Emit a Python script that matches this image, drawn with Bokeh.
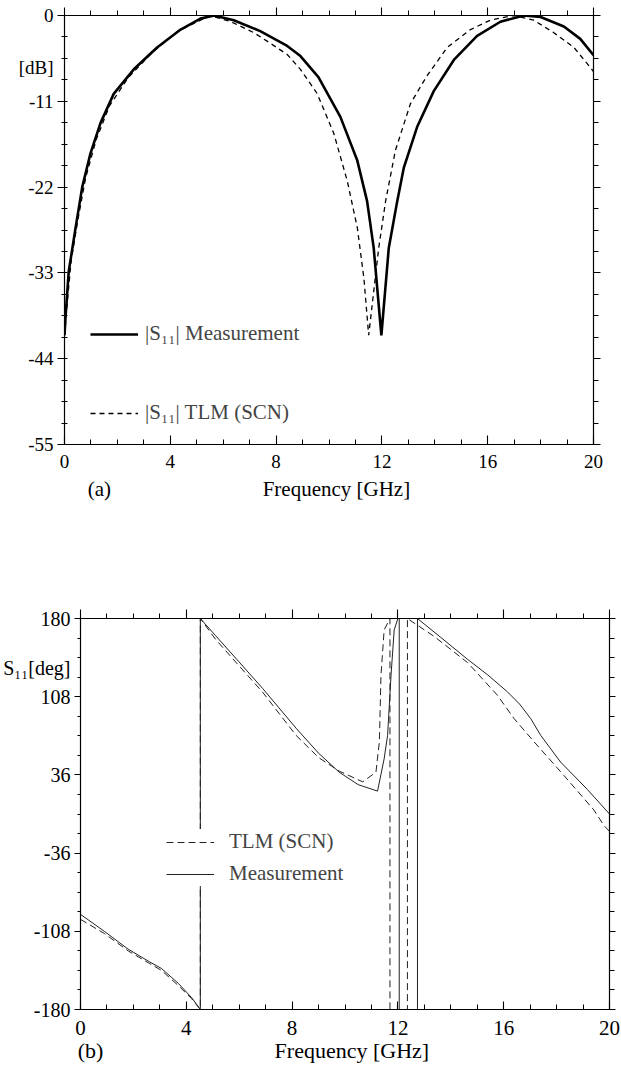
from bokeh.plotting import figure
from bokeh.models import (Range1d, LinearAxis, FixedTicker, Legend, LegendItem,
                          CustomJSTickFormatter)
from bokeh.embed import file_html
from bokeh.resources import INLINE

FONT = "Liberation Serif"

# ---------------- data: panel (a) |S11| in dB ----------------
meas_f = [0.0, 0.04, 0.16, 0.42, 0.67, 0.98, 1.36, 1.86, 2.62, 3.5, 4.39, 5.14, 5.65, 6.4, 7.4,
          8.42, 8.92, 9.6, 10.43, 11.07, 11.44, 11.69, 11.98, 12.26, 12.58, 12.83, 13.33, 13.96,
          14.72, 15.6, 16.48, 17.37, 18.0, 18.88, 19.5, 20.0]
meas_db = [-41.0, -38.6, -32.8, -27.2, -22.0, -17.7, -13.8, -10.05, -6.9, -4.1, -1.8, -0.4, 0.0,
           -0.6, -2.0, -3.9, -5.2, -7.9, -13.0, -18.6, -23.8, -29.8, -41.0, -29.8, -23.8, -19.5,
           -14.3, -9.7, -5.7, -2.6, -0.8, 0.0, -0.2, -1.4, -3.0, -5.1]

tlm_f = [0.0, 0.1, 0.25, 0.5, 0.8, 1.2, 1.7, 2.4, 3.3, 4.3, 5.5, 6.3, 7.16, 7.8, 8.42, 8.92, 9.55,
         10.18, 10.69, 11.07, 11.32, 11.5, 11.88, 12.14, 12.51, 13.08, 13.71, 14.47, 15.35, 16.1,
         16.99, 17.74, 18.5, 19.26, 19.89, 20.0]
tlm_db = [-41.0, -37.0, -31.5, -26.3, -20.8, -15.9, -11.6, -8.0, -4.8, -2.0, 0.0, -0.8, -2.2, -3.6,
          -5.0, -6.9, -10.0, -15.1, -21.2, -27.2, -33.7, -41.0, -29.8, -23.8, -17.3, -11.3, -7.7,
          -4.1, -1.8, -0.6, 0.0, -0.6, -2.2, -4.1, -6.7, -7.2]

# ---------------- data: panel (b) phase of S11 in degrees ----------------
meas_ph_f = [0.0, 0.9, 1.8, 2.6, 3.06, 3.7, 4.2, 4.53, 4.53, 5.1, 5.9, 6.89, 8.15, 9.0, 9.78,
             10.5, 11.23, 11.48, 11.61, 11.74, 11.86, 12.0, 12.05, 12.05, 12.74, 12.74, 13.6,
             14.63, 15.4, 16.14, 16.6, 17.02, 17.4, 18.15, 19.16, 20.0]
meas_ph = [-92.4, -108.0, -124.4, -136.0, -142.2, -156.0, -169.0, -180.0, 180.0, 164.4, 142.6,
           115.5, 79.0, 56.0, 38.5, 27.0, 21.1, 50.8, 72.4, 127.5, 169.5, 180.0, 180.0, -180.0,
           -180.0, 180.0, 163.0, 142.5, 128.0, 112.5, 101.2, 87.9, 72.4, 47.8, 22.7, 0.0]

tlm_ph_f = [0.0, 0.9, 1.8, 2.6, 3.06, 3.7, 4.2, 4.53, 4.53, 5.1, 5.9, 6.89, 8.15, 9.0, 9.78,
            10.67, 11.17, 11.3, 11.36, 11.48, 11.7, 11.7, 12.36, 12.36, 13.37, 14.63, 15.76,
            16.39, 17.14, 18.28, 19.41, 19.79, 20.0]
tlm_ph = [-97.0, -110.0, -126.0, -137.5, -144.0, -158.0, -170.0, -180.0, 180.0, 161.0, 139.0,
          112.0, 72.4, 52.0, 39.5, 29.6, 38.5, 66.7, 127.5, 169.5, 180.0, -180.0, -180.0, 180.0,
          163.5, 139.5, 109.4, 87.9, 66.7, 35.4, 3.7, -10.6, -16.0]

# ---------------- ticks and texts ----------------
x_major = [0, 4, 8, 12, 16, 20]
x_labels = ["0", "4", "8", "12", "16", "20"]
x_minor = list(range(0, 21))
ya_major = [-55, -44, -33, -22, -11, 0]
ya_labels = ["-55", "-44", "-33", "-22", "-11", "0"]
ya_minor = [-55 + 2.75 * i for i in range(21)]
yb_major = [-180, -108, -36, 36, 108, 180]
yb_labels = ["-180", "-108", "-36", "36", "108", "180"]
yb_minor = [-180 + 18 * i for i in range(21)]

ya_title, ya_title_at = "[dB]", -6.7
yb_title, yb_title_at = "S₁₁[deg]", 134.0
xa_texts, xa_text_at = ["(a)", "Frequency [GHz]"], [1.32, 10.28]
xb_texts, xb_text_at = ["(b)", "Frequency [GHz]"], [0.38, 10.26]

BLANK = CustomJSTickFormatter(code="return '';")


def tick_axis(ax, ticks, minor, maj_in=0, maj_out=0, min_in=0, min_out=0):
    """Axis that only draws its line and tick marks."""
    ax.ticker = FixedTicker(ticks=ticks, minor_ticks=minor)
    ax.formatter = BLANK
    ax.axis_line_color = "black"
    ax.axis_line_width = 1.2
    ax.major_tick_line_color = "black"
    ax.minor_tick_line_color = "black"
    ax.major_tick_line_width = 1.1
    ax.minor_tick_line_width = 1.0
    ax.major_tick_in = maj_in
    ax.major_tick_out = maj_out
    ax.minor_tick_in = min_in
    ax.minor_tick_out = min_out
    ax.major_label_text_font_size = "0px"
    ax.major_label_standoff = 0
    return ax


def text_axis(ticks, labels, size, standoff):
    """Axis that only writes texts (tick labels) at given positions."""
    ax = LinearAxis(ticker=FixedTicker(ticks=ticks, minor_ticks=[]))
    ax.major_label_overrides = dict(zip(ticks, labels))
    ax.axis_line_color = None
    ax.major_tick_line_color = None
    ax.minor_tick_line_color = None
    ax.major_tick_in = 0
    ax.major_tick_out = 0
    ax.minor_tick_in = 0
    ax.minor_tick_out = 0
    ax.major_label_text_font = FONT
    ax.major_label_text_color = "black"
    ax.major_label_text_font_size = size
    ax.major_label_standoff = standoff
    return ax


def new_fig(h, xr, yr, left, right, top, bottom):
    p = figure(width=621, height=h, x_range=xr, y_range=yr,
               output_backend="svg", toolbar_location=None,
               min_border_left=left, min_border_right=right, min_border_top=top,
               min_border_bottom=bottom)
    p.xgrid.visible = False
    p.ygrid.visible = False
    p.outline_line_color = None
    p.background_fill_color = "white"
    p.border_fill_color = "white"
    return p


# ================= panel (a) =================
p1 = new_fig(560, Range1d(0, 20), Range1d(-55, 0), 64, 28, 15, 116)

tick_axis(p1.xaxis[0], x_major, x_minor, maj_in=9, min_in=5)
tick_axis(p1.yaxis[0], ya_major, ya_minor, maj_out=7, min_in=3, min_out=3)
p1.add_layout(text_axis(x_major, x_labels, "19px", 10), "below")
p1.add_layout(text_axis(xa_text_at, xa_texts, "21px", 6), "below")
p1.add_layout(text_axis(ya_major + [ya_title_at], ya_labels + [ya_title], "19px", 4), "left")
p1.add_layout(tick_axis(LinearAxis(), x_major, x_minor, maj_out=8, min_out=5), "above")
p1.add_layout(tick_axis(LinearAxis(), ya_major, ya_minor, maj_out=7, min_out=5), "right")

r_meas = p1.line(meas_f, meas_db, line_color="black", line_width=2.6)
r_tlm = p1.line(tlm_f, tlm_db, line_color="black", line_width=1.3, line_dash="5 4")

leg1 = Legend(items=[LegendItem(label="|S₁₁| Measurement", renderers=[r_meas]),
                     LegendItem(label="|S₁₁| TLM (SCN)", renderers=[r_tlm])],
              location=(26, 19), glyph_width=48, glyph_height=22, label_height=22,
              label_standoff=7, padding=0, margin=0, spacing=54,
              border_line_color=None, background_fill_alpha=0,
              label_text_font=FONT, label_text_font_size="21px")
p1.add_layout(leg1)

# ================= panel (b) =================
p2 = new_fig(510, Range1d(0, 20), Range1d(-180, 180), 79, 12, 58, 61)

tick_axis(p2.xaxis[0], x_major, x_minor, maj_in=8, min_in=5)
tick_axis(p2.yaxis[0], yb_major, yb_minor, maj_out=6, min_out=3)
p2.add_layout(text_axis(x_major, x_labels, "21px", 11), "below")
p2.add_layout(text_axis(xb_text_at, xb_texts, "22px", 0), "below")
p2.add_layout(text_axis(yb_major + [yb_title_at], yb_labels + [yb_title], "20px", 4), "left")
p2.add_layout(tick_axis(LinearAxis(), x_major, x_minor, maj_out=9, min_out=5), "above")
p2.add_layout(tick_axis(LinearAxis(), yb_major, yb_minor, maj_out=6, min_out=5), "right")

r_tlm2 = p2.line(tlm_ph_f, tlm_ph, line_color="#222222", line_width=1.0, line_dash="7 4")
r_meas2 = p2.line(meas_ph_f, meas_ph, line_color="#222222", line_width=1.0)

leg2 = Legend(items=[LegendItem(label="TLM (SCN)", renderers=[r_tlm2]),
                     LegendItem(label="Measurement", renderers=[r_meas2])],
              location=(86, 123), glyph_width=48, glyph_height=22, label_height=22,
              label_standoff=15, padding=5, margin=0, spacing=7,
              border_line_color=None, background_fill_color="white", background_fill_alpha=1.0,
              label_text_font=FONT, label_text_font_size="21px")
p2.add_layout(leg2)

# two independent roots so that the two plot frames are not forced into alignment
open("out.html", "w").write(file_html([p1, p2], INLINE))
